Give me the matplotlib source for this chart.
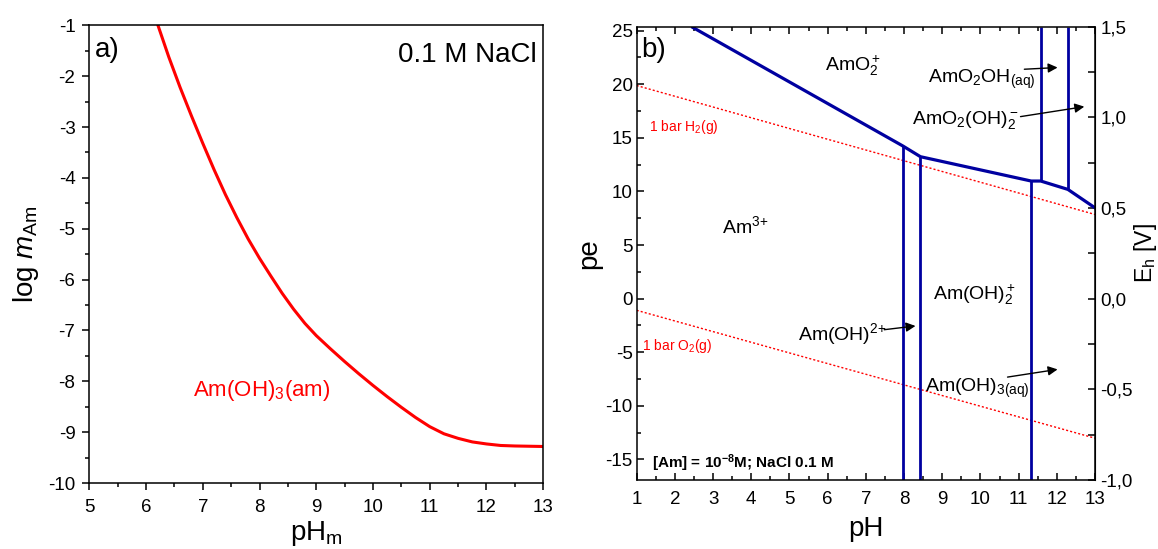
import matplotlib
matplotlib.use("Agg")
import matplotlib.pyplot as plt
from matplotlib.ticker import MultipleLocator, FixedLocator, FuncFormatter

plt.rcParams["font.family"] = ["Liberation Sans", "DejaVu Sans"]
plt.rcParams["mathtext.fontset"] = "custom"
plt.rcParams["mathtext.rm"] = "Liberation Sans"
plt.rcParams["mathtext.it"] = "Liberation Sans:italic"
plt.rcParams["mathtext.bf"] = "Liberation Sans:bold"
plt.rcParams["mathtext.default"] = "regular"
plt.rcParams["axes.unicode_minus"] = False

# a) solubility of Am(OH)3(am) in 0.1 M NaCl
ph_sol = [6.21, 6.40, 6.60, 6.80, 7.00, 7.20, 7.40, 7.60, 7.80, 8.00, 8.20,
          8.40, 8.60, 8.80, 9.00, 9.25, 9.50, 9.75, 10.00, 10.25, 10.50,
          10.75, 11.00, 11.25, 11.50, 11.75, 12.00, 12.25, 12.50, 13.00]
logm_sol = [-1.0, -1.62, -2.22, -2.78, -3.32, -3.84, -4.33, -4.78, -5.2, -5.58, -5.93,
            -6.27, -6.58, -6.86, -7.1, -7.36, -7.61, -7.85, -8.08, -8.3, -8.51,
            -8.71, -8.89, -9.03, -9.12, -9.19, -9.23, -9.26, -9.27, -9.28]

# b) Pourbaix diagram, upper boundary AmO2+ / lower species
bound_ph = [2.47, 7.97, 8.43, 11.33, 11.58, 12.29, 13.0]
bound_pe = [25.3, 14.24, 13.24, 10.97, 10.97, 10.19, 8.47]

# vertical boundaries going down to the bottom of the plot
vdown_ph = [7.97, 8.43, 11.33]
vdown_pe = [14.24, 13.24, 10.97]
# vertical boundaries going up to the top of the plot
vup_ph = [11.58, 12.29]
vup_pe = [10.97, 10.19]

# water stability lines
h2_ph = [1.0, 13.0]
h2_pe = [19.88, 7.85]
o2_ph = [1.0, 13.0]
o2_pe = [-1.09, -13.02]

eh_ticks = [-1.0, -0.5, 0.0, 0.5, 1.0, 1.5]
eh_minor = [-0.75, -0.25, 0.25, 0.75, 1.25]

PE_MIN, PE_MAX = -16.92, 25.37
EH_PER_PE = 0.05916

BLUE = "#0000a0"
RED = "#ff0000"
TICK_FS = 13.5


def pe_to_eh(pe):
    return pe * EH_PER_PE


def eh_to_pe(eh):
    return eh / EH_PER_PE


def arrow(ax, tail, tip):
    ax.annotate("", xy=tip, xytext=tail,
                arrowprops=dict(arrowstyle="-|>", color="k", lw=1.0,
                                mutation_scale=14, shrinkA=0, shrinkB=0))


fig = plt.figure(figsize=(11.58, 5.49), dpi=100)
ax_a = fig.add_axes([0.0771, 0.120, 0.392, 0.834])
ax_b = fig.add_axes([0.5498, 0.1257, 0.3958, 0.8257])

# ---- panel a ----
ax_a.plot(ph_sol, logm_sol, color=RED, lw=2.2, solid_joinstyle="round")
ax_a.set_xlim(5, 13)
ax_a.set_ylim(-10, -1)
ax_a.xaxis.set_major_locator(MultipleLocator(1))
ax_a.xaxis.set_minor_locator(MultipleLocator(0.5))
ax_a.yaxis.set_major_locator(MultipleLocator(1))
ax_a.yaxis.set_minor_locator(MultipleLocator(0.5))
ax_a.tick_params(which="both", direction="out", top=False, right=False,
                 labelsize=TICK_FS, width=1.1)
ax_a.tick_params(which="major", length=5)
ax_a.tick_params(which="minor", length=3)
ax_a.tick_params(axis="x", which="major", pad=6.5)
ax_a.tick_params(axis="y", which="major", pad=5)
ax_a.set_xlabel(r"pH$_\mathrm{m}$", fontsize=20, labelpad=2)
ax_a.set_ylabel(r"log $\mathit{m}_\mathrm{Am}$", fontsize=20, labelpad=5)
ax_a.text(5.10, -1.49, "a)", fontsize=20, ha="left", va="center")
ax_a.text(12.89, -1.73, "0.1 M NaCl", fontsize=20, ha="right", va="baseline")
ax_a.text(6.83, -8.28, r"Am(OH)$_3$(am)", fontsize=16, color=RED,
          ha="left", va="baseline")

# ---- panel b ----
ax_b.plot(h2_ph, h2_pe, color=RED, lw=1.0, linestyle=(0, (1.5, 1.5)))
ax_b.plot(o2_ph, o2_pe, color=RED, lw=1.0, linestyle=(0, (1.5, 1.5)))
ax_b.plot(bound_ph, bound_pe, color=BLUE, lw=2.3, solid_joinstyle="miter")
ax_b.vlines(vdown_ph, PE_MIN, vdown_pe, color=BLUE, lw=2.0)
ax_b.vlines(vup_ph, vup_pe, PE_MAX, color=BLUE, lw=2.0)
ax_b.set_xlim(1, 13)
ax_b.set_ylim(PE_MIN, PE_MAX)
ax_b.xaxis.set_major_locator(MultipleLocator(1))
ax_b.xaxis.set_minor_locator(MultipleLocator(0.5))
ax_b.yaxis.set_major_locator(MultipleLocator(5))
ax_b.yaxis.set_minor_locator(MultipleLocator(2.5))
ax_b.tick_params(which="both", direction="in", top=True, right=False,
                 labelsize=TICK_FS, width=1.1)
ax_b.tick_params(which="major", length=5)
ax_b.tick_params(which="minor", length=3)
ax_b.tick_params(axis="x", which="major", pad=8)
ax_b.tick_params(axis="y", which="major", pad=3)
ax_b.set_xlabel("pH", fontsize=20, labelpad=6)
ax_b.set_ylabel("pe", fontsize=20, labelpad=2)

# Eh scale on the right
sec = ax_b.secondary_yaxis("right", functions=(pe_to_eh, eh_to_pe))
sec.yaxis.set_major_locator(FixedLocator(eh_ticks))
sec.yaxis.set_minor_locator(FixedLocator(eh_minor))
sec.yaxis.set_major_formatter(FuncFormatter(lambda v, _: f"{v:.1f}".replace(".", ",")))
sec.tick_params(which="both", direction="in", labelsize=TICK_FS, width=1.1, length=5)
sec.tick_params(which="major", pad=4)
sec.set_ylabel(r"E$_\mathrm{h}$ [V]", fontsize=16.5, labelpad=-1)

for spine in list(ax_a.spines.values()) + list(ax_b.spines.values()):
    spine.set_linewidth(1.1)

ax_b.text(1.12, 23.2, "b)", fontsize=20, ha="left", va="center")
ax_b.text(5.94, 21.25, r"AmO$_2^+$", fontsize=14, ha="left", va="baseline")
ax_b.text(8.64, 20.1, r"AmO$_2$OH$_{(aq)}$", fontsize=14, ha="left", va="baseline")
ax_b.text(8.21, 16.26, r"AmO$_2$(OH)$_2^-$", fontsize=14, ha="left", va="baseline")
ax_b.text(3.24, 6.07, r"Am$^{\text{3+}}$", fontsize=14, ha="left", va="baseline")
ax_b.text(8.77, -0.06, r"Am(OH)$_2^+$", fontsize=14, ha="left", va="baseline")
ax_b.text(5.22, -3.83, r"Am(OH)$^{\text{2+}}$", fontsize=14, ha="left", va="baseline")
ax_b.text(8.54, -8.72, r"Am(OH)$_{3(aq)}$", fontsize=14, ha="left", va="baseline")
ax_b.text(1.32, 15.6, r"1 bar H$_2$(g)", fontsize=10, color=RED,
          ha="left", va="baseline")
ax_b.text(1.14, -4.83, r"1 bar O$_2$(g)", fontsize=10, color=RED,
          ha="left", va="baseline")
ax_b.text(1.39, -15.8, r"[Am] = 10$^{\mathbf{-8}}$M; NaCl 0.1 M", fontsize=11,
          fontweight="bold", ha="left", va="baseline")

arrow(ax_b, (11.15, 21.4), (12.02, 21.56))
arrow(ax_b, (11.05, 16.98), (12.72, 17.91))
arrow(ax_b, (7.48, -2.9), (8.30, -2.55))
arrow(ax_b, (10.71, -7.32), (12.02, -6.6))

fig.savefig("out.png", dpi=100)
